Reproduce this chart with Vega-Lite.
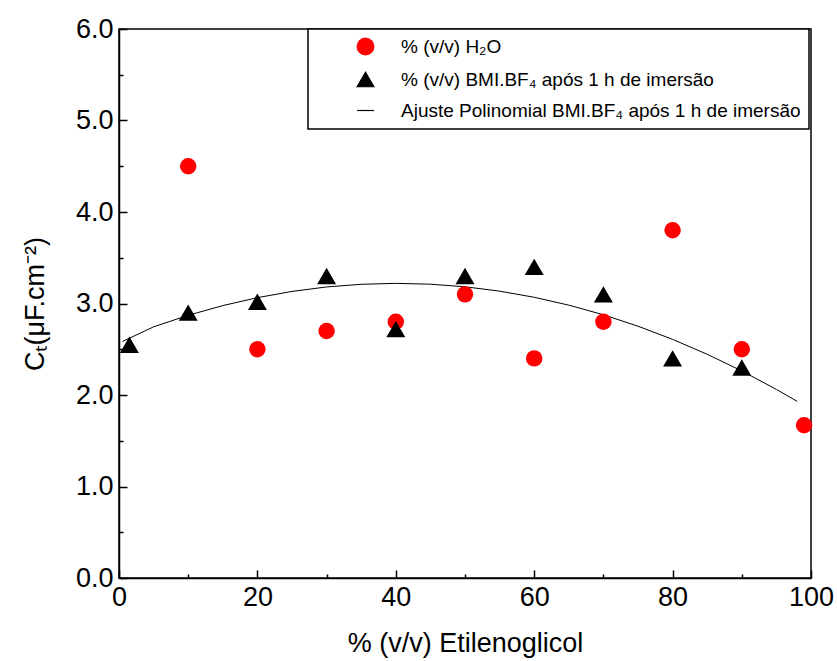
{
  "$schema": "https://vega.github.io/schema/vega-lite/v6.json",
  "width": 692,
  "height": 549,
  "autosize": "none",
  "padding": {"left": 119, "top": 29, "right": 26, "bottom": 83},
  "background": "white",
  "config": {
    "view": {"stroke": "black", "strokeWidth": 1.5},
    "font": "Liberation Sans",
    "axis": {
      "grid": false,
      "domainColor": "black",
      "domainWidth": 1.5,
      "tickColor": "black",
      "tickWidth": 1.5,
      "labelFont": "Liberation Sans",
      "labelFontSize": 27,
      "labelColor": "black",
      "titleFont": "Liberation Sans",
      "titleFontSize": 27,
      "titleFontWeight": "normal",
      "titleColor": "black"
    },
    "legend": {
      "orient": "none",
      "legendX": 189,
      "legendY": 0,
      "strokeColor": "black",
      "strokeWidth": 1.5,
      "fillColor": "white",
      "padding": 8,
      "labelFont": "Liberation Sans",
      "labelFontSize": 19,
      "labelColor": "black",
      "labelLimit": 600,
      "symbolSize": 280,
      "rowPadding": 11,
      "symbolOffset": 40,
      "labelOffset": 26
    }
  },
  "datasets": {
    "fit": [
      {"x": 0.5, "y": 2.585, "series": "Ajuste Polinomial BMI.BF₄ após 1 h de imersão"},
      {"x": 5, "y": 2.745, "series": "Ajuste Polinomial BMI.BF₄ após 1 h de imersão"},
      {"x": 10, "y": 2.871, "series": "Ajuste Polinomial BMI.BF₄ após 1 h de imersão"},
      {"x": 15, "y": 2.977, "series": "Ajuste Polinomial BMI.BF₄ após 1 h de imersão"},
      {"x": 20, "y": 3.064, "series": "Ajuste Polinomial BMI.BF₄ após 1 h de imersão"},
      {"x": 25, "y": 3.132, "series": "Ajuste Polinomial BMI.BF₄ após 1 h de imersão"},
      {"x": 30, "y": 3.181, "series": "Ajuste Polinomial BMI.BF₄ após 1 h de imersão"},
      {"x": 35, "y": 3.21, "series": "Ajuste Polinomial BMI.BF₄ após 1 h de imersão"},
      {"x": 40, "y": 3.22, "series": "Ajuste Polinomial BMI.BF₄ após 1 h de imersão"},
      {"x": 45, "y": 3.211, "series": "Ajuste Polinomial BMI.BF₄ após 1 h de imersão"},
      {"x": 50, "y": 3.183, "series": "Ajuste Polinomial BMI.BF₄ após 1 h de imersão"},
      {"x": 55, "y": 3.135, "series": "Ajuste Polinomial BMI.BF₄ após 1 h de imersão"},
      {"x": 60, "y": 3.068, "series": "Ajuste Polinomial BMI.BF₄ após 1 h de imersão"},
      {"x": 65, "y": 2.982, "series": "Ajuste Polinomial BMI.BF₄ após 1 h de imersão"},
      {"x": 70, "y": 2.877, "series": "Ajuste Polinomial BMI.BF₄ após 1 h de imersão"},
      {"x": 75, "y": 2.752, "series": "Ajuste Polinomial BMI.BF₄ após 1 h de imersão"},
      {"x": 80, "y": 2.608, "series": "Ajuste Polinomial BMI.BF₄ após 1 h de imersão"},
      {"x": 85, "y": 2.445, "series": "Ajuste Polinomial BMI.BF₄ após 1 h de imersão"},
      {"x": 90, "y": 2.263, "series": "Ajuste Polinomial BMI.BF₄ após 1 h de imersão"},
      {"x": 95, "y": 2.061, "series": "Ajuste Polinomial BMI.BF₄ após 1 h de imersão"},
      {"x": 98, "y": 1.931, "series": "Ajuste Polinomial BMI.BF₄ após 1 h de imersão"}
    ],
    "pts": [
      {"x": 10, "y": 4.5, "series": "% (v/v) H₂O"},
      {"x": 20, "y": 2.5, "series": "% (v/v) H₂O"},
      {"x": 30, "y": 2.7, "series": "% (v/v) H₂O"},
      {"x": 40, "y": 2.8, "series": "% (v/v) H₂O"},
      {"x": 50, "y": 3.1, "series": "% (v/v) H₂O"},
      {"x": 60, "y": 2.4, "series": "% (v/v) H₂O"},
      {"x": 70, "y": 2.8, "series": "% (v/v) H₂O"},
      {"x": 80, "y": 3.8, "series": "% (v/v) H₂O"},
      {"x": 90, "y": 2.5, "series": "% (v/v) H₂O"},
      {"x": 99, "y": 1.67, "series": "% (v/v) H₂O"},
      {"x": 1.5, "y": 2.55, "series": "% (v/v) BMI.BF₄ após 1 h de imersão"},
      {"x": 10, "y": 2.9, "series": "% (v/v) BMI.BF₄ após 1 h de imersão"},
      {"x": 20, "y": 3.02, "series": "% (v/v) BMI.BF₄ após 1 h de imersão"},
      {"x": 30, "y": 3.3, "series": "% (v/v) BMI.BF₄ após 1 h de imersão"},
      {"x": 40, "y": 2.72, "series": "% (v/v) BMI.BF₄ após 1 h de imersão"},
      {"x": 50, "y": 3.3, "series": "% (v/v) BMI.BF₄ após 1 h de imersão"},
      {"x": 60, "y": 3.4, "series": "% (v/v) BMI.BF₄ após 1 h de imersão"},
      {"x": 70, "y": 3.1, "series": "% (v/v) BMI.BF₄ após 1 h de imersão"},
      {"x": 80, "y": 2.4, "series": "% (v/v) BMI.BF₄ após 1 h de imersão"},
      {"x": 90, "y": 2.3, "series": "% (v/v) BMI.BF₄ após 1 h de imersão"}
    ]
  },
  "layer": [
    {
      "data": {"name": "fit"},
      "mark": {"type": "line", "color": "black", "strokeWidth": 1},
      "encoding": {
        "x": {
          "field": "x", "type": "quantitative",
          "scale": {"domain": [0, 100], "nice": false},
          "axis": {"values": [0, 20, 40, 60, 80, 100], "tickSize": -8, "labelPadding": 14, "title": "% (v/v) Etilenoglicol", "titlePadding": 20, "labelFlush": false}
        },
        "y": {
          "field": "y", "type": "quantitative",
          "scale": {"domain": [0, 6], "nice": false},
          "axis": {"values": [0, 1, 2, 3, 4, 5, 6], "format": ".1f", "tickSize": -8, "labelPadding": 14, "title": "Cₜ(μF.cm⁻²)", "titlePadding": 26}
        },
        "color": {
          "field": "series", "type": "nominal",
          "scale": {
            "domain": ["% (v/v) H₂O", "% (v/v) BMI.BF₄ após 1 h de imersão", "Ajuste Polinomial BMI.BF₄ após 1 h de imersão"],
            "range": ["#ff0000", "black", "black"]
          },
          "legend": {"title": null, "encode": {"symbols": {"update": {"stroke": {"scale": "color", "field": "value"}, "strokeWidth": {"value": 1.2}}}}}
        }
      }
    },
    {
      "data": {"name": "pts"},
      "mark": {"type": "point", "filled": true, "opacity": 1},
      "encoding": {
        "x": {
          "field": "x", "type": "quantitative",
          "axis": {"orient": "bottom", "values": [10, 30, 50, 70, 90], "tickSize": -4, "labels": false, "domain": false, "title": null}
        },
        "y": {
          "field": "y", "type": "quantitative",
          "axis": {"orient": "left", "values": [0.5, 1.5, 2.5, 3.5, 4.5, 5.5], "tickSize": -4, "labels": false, "domain": false, "title": null}
        },
        "size": {
          "field": "series", "type": "nominal",
          "scale": {"domain": ["% (v/v) H₂O", "% (v/v) BMI.BF₄ após 1 h de imersão"], "range": [270, 360]},
          "legend": null
        },
        "color": {"field": "series", "type": "nominal", "legend": {"title": null}},
        "shape": {
          "field": "series", "type": "nominal",
          "scale": {
            "domain": ["% (v/v) H₂O", "% (v/v) BMI.BF₄ após 1 h de imersão", "Ajuste Polinomial BMI.BF₄ após 1 h de imersão"],
            "range": ["circle", "triangle-up", "stroke"]
          },
          "legend": {"title": null}
        }
      }
    }
  ],
  "resolve": {"axis": {"x": "independent", "y": "independent"}}
}
